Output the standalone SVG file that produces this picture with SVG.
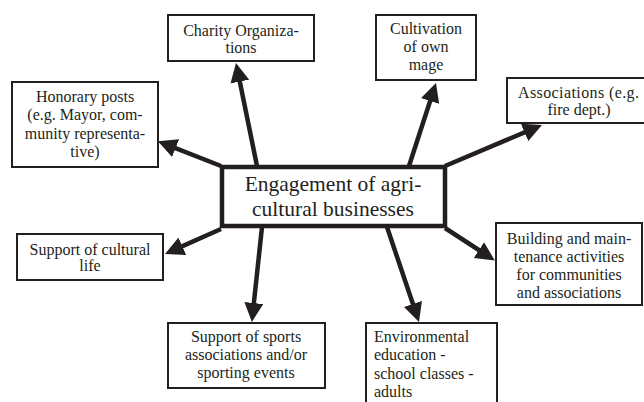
<svg xmlns="http://www.w3.org/2000/svg" width="644" height="402" viewBox="0 0 644 402">
<style>
.box{fill:#fff;stroke:#231f20;stroke-width:2}
.main{fill:#fff;stroke:#231f20;stroke-width:4.5}
.t{font-family:"Liberation Serif","Times New Roman",serif;font-size:16px;fill:#231f20;text-anchor:middle}
.tl{font-family:"Liberation Serif","Times New Roman",serif;font-size:16px;fill:#231f20}
.big{font-family:"Liberation Serif","Times New Roman",serif;font-size:21.5px;fill:#231f20;text-anchor:middle}
.c{stroke:#231f20;stroke-width:4.5;fill:none;marker-end:url(#ah)}
</style>
<defs>
<marker id="ah" markerUnits="userSpaceOnUse" markerWidth="19" markerHeight="19" refX="9" refY="9.5" orient="auto" viewBox="0 0 19 19">
<path d="M0,0 L19,9.5 L0,19 z" fill="#231f20"/>
</marker>
</defs>
<rect width="644" height="402" fill="#fff"/>
<g id="connectors">
<line class="c" x1="257" y1="166" x2="238" y2="72.8"/>
<line class="c" x1="221" y1="166" x2="167.2" y2="144.9"/>
<line class="c" x1="409" y1="166" x2="432.9" y2="92.5"/>
<line class="c" x1="445" y1="166" x2="532.8" y2="128.9"/>
<line class="c" x1="221" y1="229" x2="174.1" y2="249.9"/>
<line class="c" x1="262" y1="227" x2="252.9" y2="312"/>
<line class="c" x1="387" y1="227" x2="415.8" y2="312.5"/>
<line class="c" x1="445" y1="228" x2="486.4" y2="255"/>
</g>
<g id="center">
<rect class="main" x="222" y="167" width="223" height="59"/>
<text class="big" x="333" y="191">Engagement of agri-</text>
<text class="big" x="333" y="216">cultural businesses</text>
</g>
<g id="charity">
<rect class="box" x="168" y="15" width="146" height="46"/>
<text class="t" x="241" y="36">Charity Organiza-</text>
<text class="t" x="241" y="53">tions</text>
</g>
<g id="honorary">
<rect class="box" x="12" y="82" width="146" height="85"/>
<text class="t" x="85" y="102">Honorary posts</text>
<text class="t" x="85" y="120">(e.g. Mayor, com-</text>
<text class="t" x="85" y="139">munity representa-</text>
<text class="t" x="85" y="157">tive)</text>
</g>
<g id="cultivation">
<rect class="box" x="376" y="15" width="100" height="65"/>
<text class="t" x="426" y="34">Cultivation</text>
<text class="t" x="426" y="52">of own</text>
<text class="t" x="426" y="70">mage</text>
</g>
<g id="associations">
<rect class="box" x="507" y="78" width="144" height="45"/>
<text class="tl" x="518" y="98" textLength="121" lengthAdjust="spacing">Associations (e.g.</text>
<text class="t" x="579" y="115">fire dept.)</text>
</g>
<g id="cultural">
<rect class="box" x="17" y="234" width="146" height="46"/>
<text class="t" x="90" y="255">Support of cultural</text>
<text class="t" x="90" y="271">life</text>
</g>
<g id="sports">
<rect class="box" x="168" y="323" width="157" height="65"/>
<text class="t" x="246" y="342">Support of sports</text>
<text class="t" x="246" y="360">associations and/or</text>
<text class="t" x="246" y="378">sporting events</text>
</g>
<g id="environmental">
<rect class="box" x="366" y="323" width="131" height="90"/>
<text class="tl" x="374" y="342">Environmental</text>
<text class="tl" x="374" y="360">education -</text>
<text class="tl" x="374" y="379">school classes -</text>
<text class="tl" x="374" y="397">adults</text>
</g>
<g id="building">
<rect class="box" x="496" y="223" width="146" height="82"/>
<text class="t" x="569" y="244">Building and main-</text>
<text class="t" x="569" y="262">tenance activities</text>
<text class="t" x="569" y="280">for communities</text>
<text class="t" x="569" y="298">and associations</text>
</g>
</svg>
